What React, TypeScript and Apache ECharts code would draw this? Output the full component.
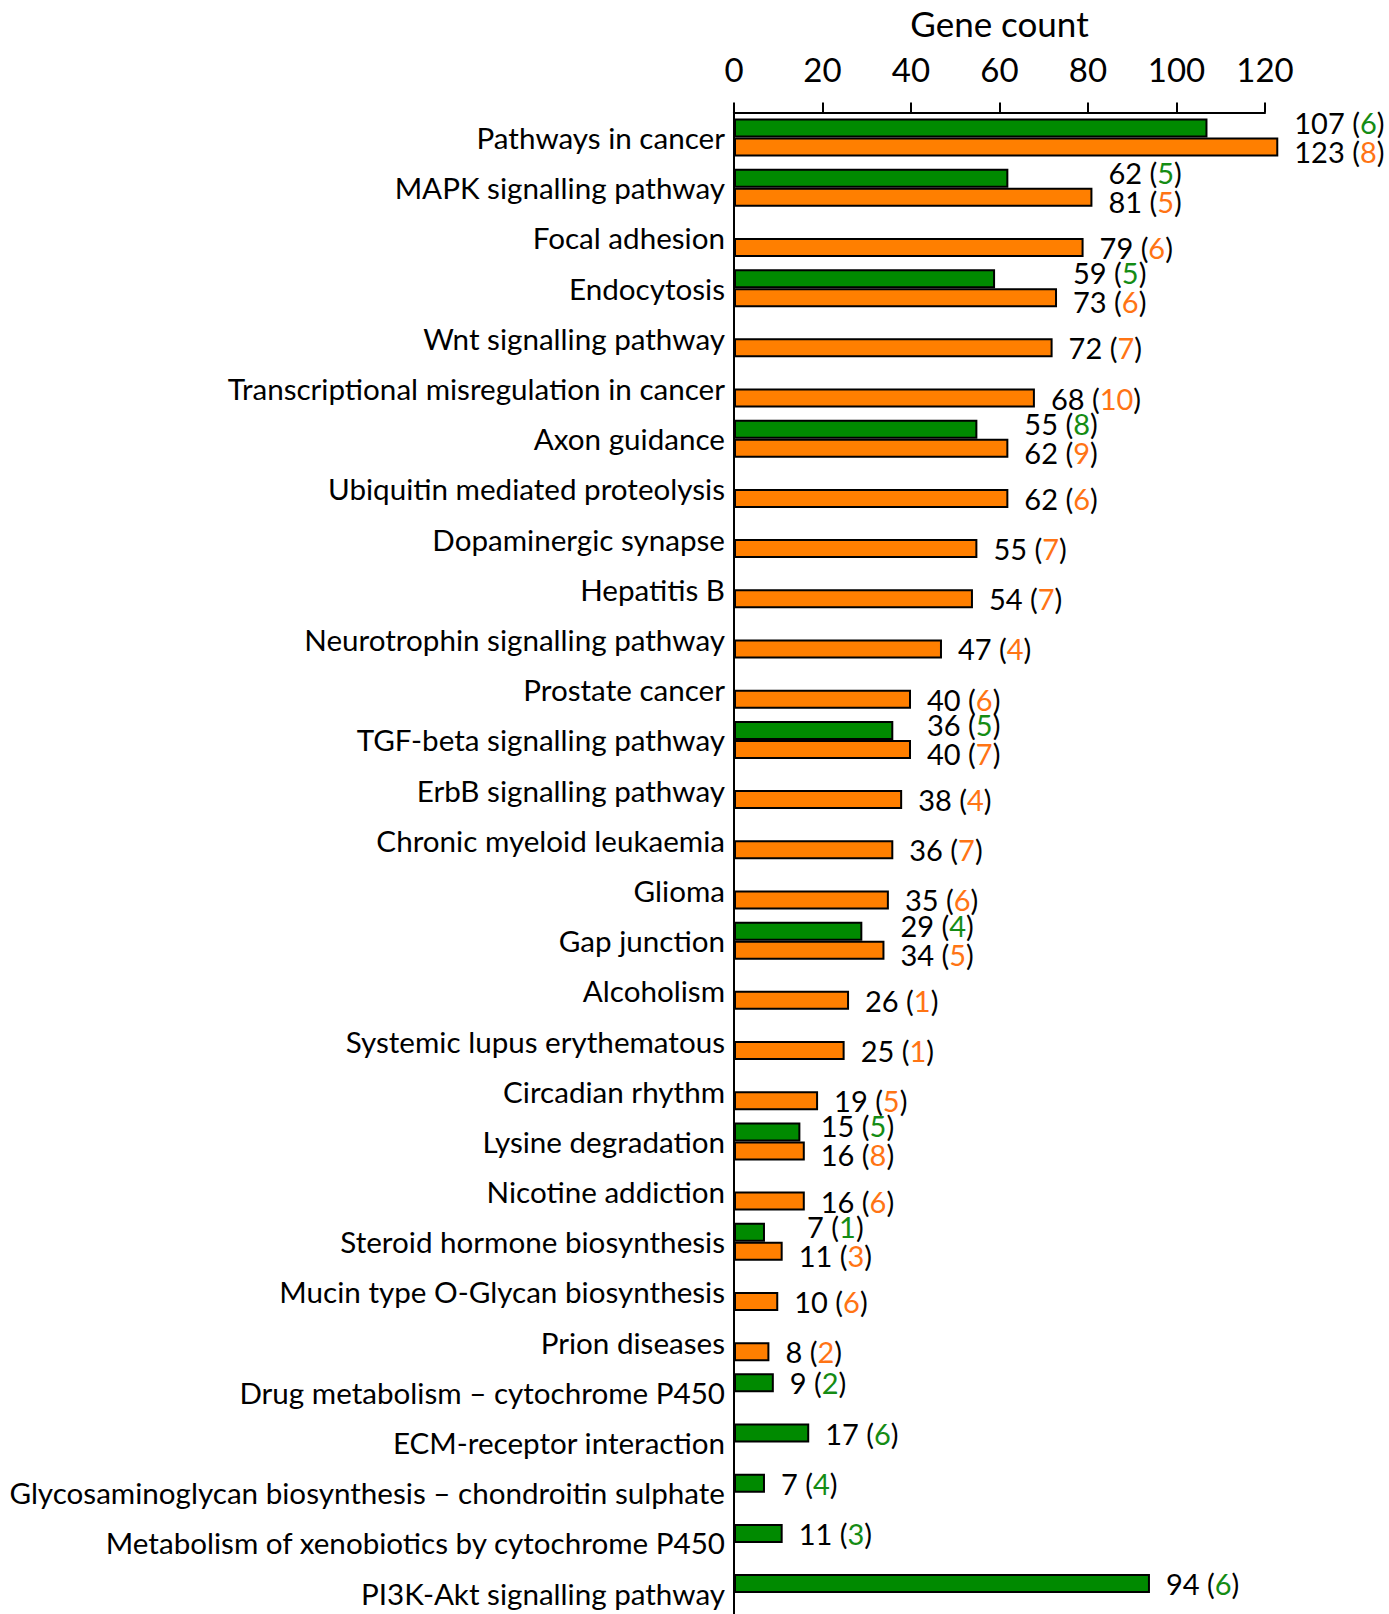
import React, { useEffect, useRef } from "react";
import * as echarts from "echarts";

const categories = [
  "Pathways in cancer",
  "MAPK signalling pathway",
  "Focal adhesion",
  "Endocytosis",
  "Wnt signalling pathway",
  "Transcriptional misregulation in cancer",
  "Axon guidance",
  "Ubiquitin mediated proteolysis",
  "Dopaminergic synapse",
  "Hepatitis B",
  "Neurotrophin signalling pathway",
  "Prostate cancer",
  "TGF-beta signalling pathway",
  "ErbB signalling pathway",
  "Chronic myeloid leukaemia",
  "Glioma",
  "Gap junction",
  "Alcoholism",
  "Systemic lupus erythematous",
  "Circadian rhythm",
  "Lysine degradation",
  "Nicotine addiction",
  "Steroid hormone biosynthesis",
  "Mucin type O-Glycan biosynthesis",
  "Prion diseases",
  "Drug metabolism \u2013 cytochrome P450",
  "ECM-receptor interaction",
  "Glycosaminoglycan biosynthesis \u2013 chondroitin sulphate",
  "Metabolism of xenobiotics by cytochrome P450",
  "PI3K-Akt signalling pathway",
];

const greenValues = [107, 62, null, 59, null, null, 55, null, null, null, null, null, 36, null, null, null, 29, null, null, null, 15, null, 7, null, null, 9, 17, 7, 11, 94];
const greenCounts = [6, 5, null, 5, null, null, 8, null, null, null, null, null, 5, null, null, null, 4, null, null, null, 5, null, 1, null, null, 2, 6, 4, 3, 6];
const orangeValues = [123, 81, 79, 73, 72, 68, 62, 62, 55, 54, 47, 40, 40, 38, 36, 35, 34, 26, 25, 19, 16, 16, 11, 10, 8, null, null, null, null, null];
const orangeCounts = [8, 5, 6, 6, 7, 10, 9, 6, 7, 7, 4, 6, 7, 4, 7, 6, 5, 1, 1, 5, 8, 6, 3, 6, 2, null, null, null, null, null];

const axisMin = 0;
const axisMax = 120;
const axisInterval = 20;

const GREEN = "#008a00";
const ORANGE = "#ff7f00";
const GREEN_TXT = "#148c14";
const ORANGE_TXT = "#ff7414";
const FONT = "Lato";
const LABEL_FS = 29;
const CAT_FS = 29.6;

const GRID_LEFT = 734;
const GRID_WIDTH = 531;
const GRID_TOP = 112.5;
const BAND = 50.19;

function measure(text: string): number {
  const c = document.createElement("canvas");
  const ctx = c.getContext("2d");
  if (!ctx) return text.length * LABEL_FS * 0.5;
  ctx.font = `${LABEL_FS}px ${FONT}`;
  return ctx.measureText(text).width;
}

function buildData(
  values: (number | null)[],
  counts: (number | null)[],
  otherValues: (number | null)[],
  otherCounts: (number | null)[],
  isGreen: boolean
) {
  const k = GRID_WIDTH / (axisMax - axisMin);
  return values.map((v, i) => {
    if (v == null) return null;
    const c = counts[i];
    const ov = otherValues[i];
    let dx = 0;
    let dy = 0;
    if (ov != null) {
      const maxV = Math.max(v, ov);
      const wSelf = measure(`${v} (${c})`);
      const wOther = measure(`${ov} (${otherCounts[i]})`);
      const wLong = ov > v ? wOther : wSelf;
      if (ov > v) dx = (maxV - v) * k + (wLong - wSelf) / 2;
      dy = isGreen ? -6 : 4;
    }
    return {
      value: v,
      label: {
        show: true,
        position: "right",
        distance: 16,
        offset: [dx, dy],
        formatter: `{a|${v} (}{${isGreen ? "g" : "o"}|${c}}{a|)}`,
      },
    };
  });
}

export default function App() {
  const ref = useRef<HTMLDivElement>(null);
  useEffect(() => {
    if (!ref.current) return;
    const chart = echarts.init(ref.current, null, { renderer: "svg" });
    const rich = {
      a: { fontFamily: FONT, fontSize: LABEL_FS, lineHeight: 23, color: "#000" },
      g: { fontFamily: FONT, fontSize: LABEL_FS, lineHeight: 23, color: GREEN_TXT },
      o: { fontFamily: FONT, fontSize: LABEL_FS, lineHeight: 23, color: ORANGE_TXT },
    };
    chart.setOption({
      animation: false,
      backgroundColor: "#fff",
      textStyle: { fontFamily: FONT },
      grid: {
        left: GRID_LEFT,
        width: GRID_WIDTH,
        top: GRID_TOP,
        height: BAND * categories.length,
        containLabel: false,
        outerBoundsMode: "none",
      },
      xAxis: {
        type: "value",
        position: "top",
        min: axisMin,
        max: axisMax,
        interval: axisInterval,
        name: "Gene count",
        nameLocation: "middle",
        nameGap: 72,
        nameTextStyle: { fontFamily: FONT, fontSize: 35, color: "#000" },
        axisLine: { show: true, lineStyle: { color: "#000", width: 2 } },
        axisTick: { show: true, inside: false, length: 10, lineStyle: { color: "#000", width: 2 } },
        axisLabel: { fontFamily: FONT, fontSize: 33, color: "#000", margin: 27 },
        splitLine: { show: false },
      },
      yAxis: {
        type: "category",
        inverse: true,
        data: categories,
        axisLine: { show: true, onZero: false, lineStyle: { color: "#000", width: 2 } },
        axisTick: { show: false },
        axisLabel: {
          fontFamily: FONT,
          fontSize: CAT_FS,
          lineHeight: 30,
          color: "#000",
          margin: 9,
          interval: 0,
          padding: [8, 0, 0, 0],
        },
        splitLine: { show: false },
      },
      series: [
        {
          type: "bar",
          name: "green",
          clip: false,
          data: buildData(greenValues, greenCounts, orangeValues, orangeCounts, true),
          barWidth: 19,
          barGap: "0%",
          itemStyle: { color: GREEN, borderColor: "#000", borderWidth: 2 },
          label: { rich },
        },
        {
          type: "bar",
          name: "orange",
          clip: false,
          data: buildData(orangeValues, orangeCounts, greenValues, greenCounts, false),
          barWidth: 19,
          barGap: "0%",
          itemStyle: { color: ORANGE, borderColor: "#000", borderWidth: 2 },
          label: { rich },
        },
      ],
    });
    return () => chart.dispose();
  }, []);
  return (
    <div
      ref={ref}
      style={{ position: "absolute", left: 0, top: 0, width: 1389, height: 1614 }}
    />
  );
}
